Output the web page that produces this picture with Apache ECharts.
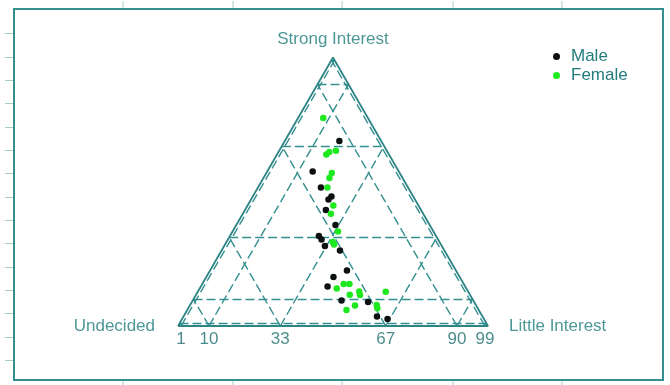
<!DOCTYPE html>
<html>
<head>
<meta charset="utf-8">
<script src="https://cdn.jsdelivr.net/npm/echarts@6/dist/echarts.min.js"></script>
<style>
  html, body { margin: 0; padding: 0; background: #ffffff; }
  #chart { width: 670px; height: 385px; }
</style>
</head>
<body>
<div id="chart"></div>
<script>
// Ternary composition of each respondent, in percent:
// strong interest / undecided / little interest
const maleStrong    = [68.9, 57.5, 51.6, 48.2, 47.1, 43.2, 37.6, 33.5, 32.2, 29.8, 28.1, 20.7, 18.2, 14.7, 9.5, 8.9, 3.5, 2.6];
const maleUndecided = [13.5, 27.8, 28.1, 26.4, 27.9, 30.7, 30.4, 37.8, 37.6, 37.7, 33.7, 35.2, 40.7, 44.4, 42.5, 34.2, 34.1, 31.1];
const maleLittle    = [17.6, 14.7, 20.3, 25.4, 25.0, 26.1, 32.0, 28.7, 30.2, 32.5, 38.2, 44.2, 41.0, 40.9, 48.0, 56.8, 62.5, 66.3];

const femaleStrong    = [77.5, 63.9, 64.8, 65.3, 57.0, 55.1, 51.6, 44.9, 41.8, 35.2, 31.3, 30.4, 14.0, 15.6, 15.6, 11.6, 12.8, 11.5, 12.8, 6.0, 7.6, 7.8, 6.6];
const femaleUndecided = [14.4, 20.2, 18.8, 16.4, 21.9, 23.6, 26.0, 27.5, 29.8, 30.8, 34.5, 34.5, 41.8, 38.7, 36.9, 38.8, 35.1, 35.5, 26.6, 42.7, 39.1, 32.0, 32.4];
const femaleLittle    = [8.1, 15.9, 16.4, 18.3, 21.1, 21.3, 22.4, 27.7, 28.4, 34.0, 34.3, 35.2, 44.2, 45.6, 47.5, 49.6, 52.0, 52.9, 60.6, 51.4, 53.3, 60.2, 61.0];

// Grid levels (percent) drawn parallel to each side; also the base tick labels
const gridLevels = [1, 10, 33, 67, 90, 99];
const vertexNames = ['Strong Interest', 'Undecided', 'Little Interest'];
const seriesNames = ['Male', 'Female'];

const TEAL = '#358f8f';
const TEXT = '#217c7c';
const FONT = '"Liberation Sans", Arial, sans-serif';

// Barycentric -> cartesian: base from (0,0) to (1,0), apex at (0.5,1)
function toXY(strong, undecided, little) {
  const t = strong + undecided + little;
  const s = strong / t, l = little / t;
  return [l + s / 2, s];
}

function points(S, U, L) {
  return S.map((s, i) => toXY(s, U[i], L[i]));
}

// Dashed reference lines
const gridLines = [];
gridLevels.forEach(v => {
  const w = 100 - v;
  gridLines.push({ coords: [toXY(v, w, 0), toXY(v, 0, w)] });   // constant strong interest
  gridLines.push({ coords: [toXY(0, w, v), toXY(w, 0, v)] });   // constant little interest
  gridLines.push({ coords: [toXY(0, v, w), toXY(w, v, 0)] });   // constant undecided
});

const outline = [toXY(0, 100, 0), toXY(0, 0, 100), toXY(100, 0, 0), toXY(0, 100, 0)];

// Frame around the plot with small outward ticks
const frame = { x: 14, y: 9, w: 649, h: 371 };
const graphics = [{
  type: 'rect', shape: { x: frame.x, y: frame.y, width: frame.w, height: frame.h },
  style: { fill: 'none', stroke: TEAL, lineWidth: 2 }, z: 0
}];
[123, 233, 342, 453, 562].forEach(x => {
  graphics.push({ type: 'line', shape: { x1: x, y1: 1, x2: x, y2: frame.y - 1 }, style: { stroke: '#a8cccc', lineWidth: 1 } });
  graphics.push({ type: 'line', shape: { x1: x, y1: frame.y + frame.h + 1, x2: x, y2: 385 }, style: { stroke: '#a8cccc', lineWidth: 1 } });
});
for (let k = 0; k < 15; k++) {
  const y = Math.round(33.3 + k * 23.33) + 0.5;
  graphics.push({ type: 'line', shape: { x1: 5, y1: y, x2: frame.x - 1, y2: y }, style: { stroke: '#a8cccc', lineWidth: 1 } });
}

const chart = echarts.init(document.getElementById('chart'), null, { renderer: 'canvas' });
chart.setOption({
  animation: false,
  backgroundColor: '#ffffff',
  textStyle: { fontFamily: FONT },
  graphic: graphics,
  grid: { left: 178, top: 57.5, width: 310, height: 268.5 },
  xAxis: { type: 'value', min: 0, max: 1, show: false },
  yAxis: { type: 'value', min: 0, max: 1, show: false },
  legend: {
    data: seriesNames,
    orient: 'vertical',
    left: 548,
    top: 43,
    icon: 'circle',
    itemWidth: 7,
    itemHeight: 7,
    itemGap: 2,
    textStyle: { fontSize: 17, color: TEXT, fontFamily: FONT, padding: [0, 0, 0, 6] }
  },
  series: [
    {
      type: 'lines',
      coordinateSystem: 'cartesian2d',
      silent: true,
      data: gridLines,
      lineStyle: { color: TEAL, width: 1.4, type: [9, 4], opacity: 1 },
      z: 1
    },
    {
      type: 'line',
      data: outline,
      symbol: 'none',
      silent: true,
      lineStyle: { color: '#2f8585', width: 1.8 },
      z: 2
    },
    {
      // tick labels along the base
      type: 'scatter',
      symbolSize: 0,
      silent: true,
      data: gridLevels.map(v => ({ value: toXY(0, 100 - v, v), name: String(v) })),
      label: {
        show: true, position: 'bottom', distance: 5, formatter: p => p.name,
        fontSize: 17, color: '#1f6f6f', fontFamily: FONT
      },
      z: 3
    },
    {
      // vertex titles
      type: 'scatter',
      symbolSize: 0,
      silent: true,
      data: [
        { value: toXY(100, 0, 0), name: vertexNames[0], label: { position: 'top', distance: 10 } },
        { value: toXY(0, 100, 0), name: vertexNames[1], label: { position: 'left', distance: 23 } },
        { value: toXY(0, 0, 100), name: vertexNames[2], label: { position: 'right', distance: 21 } }
      ],
      label: { show: true, formatter: p => p.name, fontSize: 17, color: TEXT, fontFamily: FONT },
      z: 3
    },
    {
      name: seriesNames[0],
      type: 'scatter',
      data: points(maleStrong, maleUndecided, maleLittle),
      symbolSize: 6.5,
      itemStyle: { color: '#0d1111', opacity: 1 },
      z: 4
    },
    {
      name: seriesNames[1],
      type: 'scatter',
      data: points(femaleStrong, femaleUndecided, femaleLittle),
      symbolSize: 6.5,
      itemStyle: { color: '#1ee81e', opacity: 1 },
      z: 5
    }
  ]
});
</script>
</body>
</html>
